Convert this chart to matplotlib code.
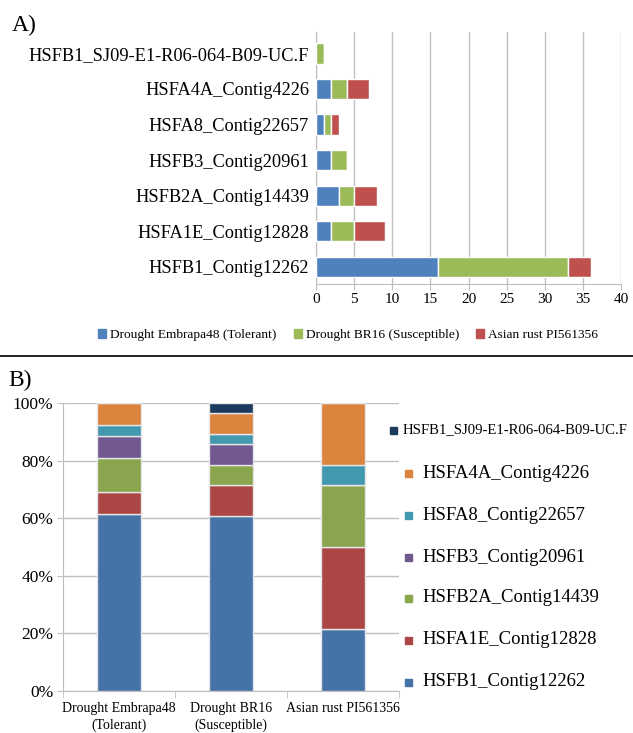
import numpy as np
import matplotlib
matplotlib.use("Agg")
import matplotlib.pyplot as plt
from matplotlib.patches import Patch, Rectangle

plt.rcParams['font.family'] = ['Liberation Serif', 'DejaVu Serif']

# genes, bottom to top as drawn in panel A
genes = ["HSFB1_Contig12262", "HSFA1E_Contig12828", "HSFB2A_Contig14439",
         "HSFB3_Contig20961", "HSFA8_Contig22657", "HSFA4A_Contig4226",
         "HSFB1_SJ09-E1-R06-064-B09-UC.F"]
conditions = ["Drought Embrapa48 (Tolerant)", "Drought BR16 (Susceptible)",
              "Asian rust PI561356"]
embrapa48 = [16, 2, 3, 2, 1, 2, 0]
br16 = [17, 3, 2, 2, 1, 2, 1]
rust = [3, 4, 3, 0, 1, 3, 0]
xticks_a = [0, 5, 10, 15, 20, 25, 30, 35, 40]
b_cats = ["Drought Embrapa48\n(Tolerant)", "Drought BR16\n(Susceptible)",
          "Asian rust PI561356"]
yticks_b = [0, 20, 40, 60, 80, 100]

colors_a = ["#4F81BD", "#9BBB59", "#C0504D"]
colors_b = ["#4572A7", "#AA4643", "#89A54E", "#71588F", "#4198AF", "#DB843D", "#1C3A5E"]
grid_c = "#BFBFBF"

fig = plt.figure(figsize=(6.33, 7.33), dpi=100)
W, H = 633, 733

# ---- panel A
axA = fig.add_axes([316 / W, 1 - 284 / H, (621 - 316) / W, (284 - 32) / H])
y = np.arange(len(genes))
left = np.zeros(len(genes))
for vals, c, lab in zip([embrapa48, br16, rust], colors_a, conditions):
    axA.barh(y, vals, left=left, height=0.57, color=c, edgecolor="white",
             linewidth=1.0, label=lab, zorder=3)
    left += np.array(vals)
axA.set_xlim(0, 40)
axA.set_ylim(-0.48, 6.6)
axA.set_xticks(xticks_a)
axA.set_xticklabels([str(t) for t in xticks_a], fontsize=11)
axA.set_yticks(y)
axA.set_yticklabels(genes, fontsize=13.2)
axA.xaxis.grid(True, color=grid_c, linewidth=1.0, zorder=0)
for s in ["top", "right"]:
    axA.spines[s].set_visible(False)
for s in ["left", "bottom"]:
    axA.spines[s].set_color(grid_c)
axA.tick_params(axis="x", length=4, color=grid_c, pad=2.5)
axA.tick_params(axis="y", length=0, pad=5)

fig.legend(handles=[Patch(color=c, label=l) for c, l in zip(colors_a, conditions)],
           loc="center", bbox_to_anchor=(348 / W, 1 - 335 / H), ncol=3,
           frameon=False, fontsize=9.6, handlelength=0.6, handleheight=0.6,
           handletextpad=0.3, columnspacing=1.3)

fig.add_artist(plt.Line2D([0, 1], [1 - 356 / H, 1 - 356 / H], color="black", linewidth=1.2))
fig.text(12 / W, 1 - 25 / H, "A)", fontsize=17, va="center", ha="left")
fig.text(8 / W, 1 - 380 / H, "B)", fontsize=17, va="center", ha="left")

# ---- panel B
axB = fig.add_axes([63 / W, 1 - 691 / H, (399 - 63) / W, (691 - 403) / H])
data = np.array([embrapa48, br16, rust], dtype=float)
pct = data / data.sum(axis=1, keepdims=True) * 100
xb = np.arange(len(b_cats))
bottom = np.zeros(len(b_cats))
for i, g in enumerate(genes):
    axB.bar(xb, pct[:, i], bottom=bottom, width=0.4, color=colors_b[i],
            edgecolor="#E6E6E6", linewidth=1.0, zorder=3, label=g)
    bottom += pct[:, i]
axB.set_xlim(-0.5, 2.5)
axB.set_ylim(0, 100)
axB.set_yticks(yticks_b)
axB.set_yticklabels([f"{t}%" for t in yticks_b], fontsize=12.5)
axB.set_xticks(xb)
axB.set_xticklabels(b_cats, fontsize=10, linespacing=1.3)
axB.set_xticks([-0.5, 0.5, 1.5, 2.5], minor=True)
axB.yaxis.grid(True, color=grid_c, linewidth=1.0, zorder=0)
for s in ["top", "right"]:
    axB.spines[s].set_visible(False)
for s in ["left", "bottom"]:
    axB.spines[s].set_color(grid_c)
axB.tick_params(axis="x", which="major", length=0, pad=8)
axB.tick_params(axis="x", which="minor", length=5, color=grid_c)
axB.tick_params(axis="y", length=4, color=grid_c, pad=3)

# legend of panel B, drawn entry by entry (first entry is offset and smaller)
leg_y = [682, 640, 598, 557, 515, 473, 430]
for i, g in enumerate(genes):
    yy = 1 - leg_y[i] / H
    if i == len(genes) - 1:
        x0, fs = 390, 10.6
    else:
        x0, fs = 405, 13.5
    fig.add_artist(Rectangle((x0 / W, yy - 3.5 / H), 7 / W, 7 / H,
                             transform=fig.transFigure, color=colors_b[i]))
    fig.text((x0 + 7 + (6 if fs < 12 else 10)) / W, yy, g, fontsize=fs,
             va="center", ha="left")

fig.savefig("out.png", dpi=100)
